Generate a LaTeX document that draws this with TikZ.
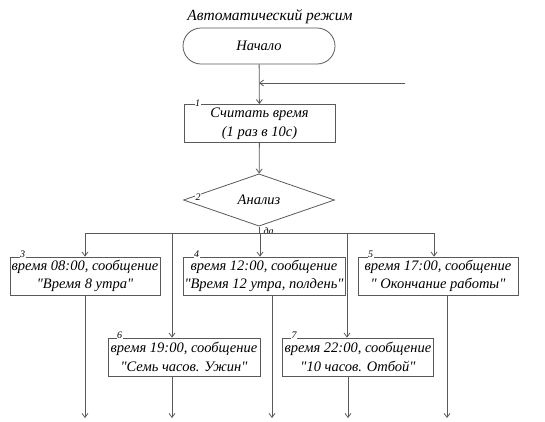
\documentclass[tikz,border=0pt]{standalone}
\usepackage{fontspec}
\setmainfont{Liberation Serif}[Ligatures=TeXOff]
\usetikzlibrary{shapes,arrows.meta,positioning,calc}

\begin{document}
\begin{tikzpicture}[x=1pt, y=-1pt,
        font=\itshape\fontsize{14.5}{18.5}\selectfont,
        block/.style={rectangle, draw=black!65, line width=0.8pt, align=center, minimum height=38pt, inner sep=0.5pt},
        terminal/.style={rectangle, rounded corners=18pt, draw=black!65, line width=0.8pt, minimum width=152pt, minimum height=36pt},
        decision/.style={diamond, draw=black!65, line width=0.8pt, minimum width=151pt, minimum height=40pt, inner sep=0pt},
        num/.style={fill=white, inner sep=0.6pt, font=\itshape\fontsize{10}{10}\selectfont},
        flow/.style={draw=black!65, line width=0.8pt, -{Straight Barb[length=4pt,width=6pt]}},
        line/.style={draw=black!65, line width=0.8pt}]

        \useasboundingbox (0,0) rectangle (545,421);

        \node[font=\itshape\fontsize{15.5}{18}\selectfont] (title) at (270,17) {Автоматический режим};
        \node[terminal] (start) at (259,46) {Начало};
        \node[block, minimum width=151pt] (read) at (259.5,123.5) {Считать время\\(1 раз в 10с)};
        \node[decision] (analyze) at (259,200) {Анализ};

        \node[block, minimum width=150pt] (b3) at (85,276) {время 08:00, сообщение\\"Время 8 утра"};
        \node[block, minimum width=162pt] (b4) at (264,276) {время 12:00, сообщение\\"Время 12 утра, полдень"};
        \node[block, minimum width=160pt] (b5) at (438,276) {время 17:00, сообщение\\" Окончание работы"};
        \node[block, minimum width=152pt] (b6) at (184,357) {время 19:00, сообщение\\"Семь часов. Ужин"};
        \node[block, minimum width=151pt] (b7) at (358,357) {время 22:00, сообщение\\"10 часов. Отбой"};

        % numbers on the frames
        \node[num] at ([xshift=14pt,yshift=1pt]read.north west) {1};
        \node[num] at ([xshift=15pt,yshift=3pt]analyze.west) {2};
        \node[num] at ([xshift=13pt,yshift=2.5pt]b3.north west) {3};
        \node[num] at ([xshift=14pt,yshift=2.5pt]b4.north west) {4};
        \node[num] at ([xshift=13pt,yshift=2.5pt]b5.north west) {5};
        \node[num] at ([xshift=12pt,yshift=2.5pt]b6.north west) {6};
        \node[num] at ([xshift=12pt,yshift=2.5pt]b7.north west) {7};

        \coordinate (entry) at (405,83);
        \coordinate (bus) at (259,233);
        \coordinate (busL) at (85,233);
        \coordinate (busR) at (435,233);
        \coordinate (t6) at (172,233);
        \coordinate (t4) at (260,233);
        \coordinate (t7) at (347,233);
        \coordinate (t5) at (434,233);
        \coordinate (e3) at (85,418);
        \coordinate (e6) at (172,418);
        \coordinate (e4) at (272,418);
        \coordinate (e7) at (348,418);
        \coordinate (e5) at (447,418);

        \draw[flow] (start) -- (read);
        \draw[flow] (entry) -- (start.south |- entry);
        \draw[flow] (read) -- (analyze);
        \draw[line] (analyze.south) -- (bus);
        \node[anchor=west, font=\itshape\fontsize{10}{10}\selectfont] (yes) at ([xshift=1pt,yshift=-5pt]analyze.south) {да};
        \draw[line] (busL) -- (busR);

        \draw[flow] (busL) -- (b3.north);
        \draw[flow] (t6) -- (t6 |- b6.north);
        \draw[flow] (t4) -- (t4 |- b4.north);
        \draw[flow] (t7) -- (t7 |- b7.north);
        \draw[flow] (t5) -- (t5 |- b5.north);

        \draw[flow] (e3 |- b3.south) -- (e3);
        \draw[flow] (e6 |- b6.south) -- (e6);
        \draw[flow] (e4 |- b4.south) -- (e4);
        \draw[flow] (e7 |- b7.south) -- (e7);
        \draw[flow] (e5 |- b5.south) -- (e5);
    \end{tikzpicture}
\end{document}
